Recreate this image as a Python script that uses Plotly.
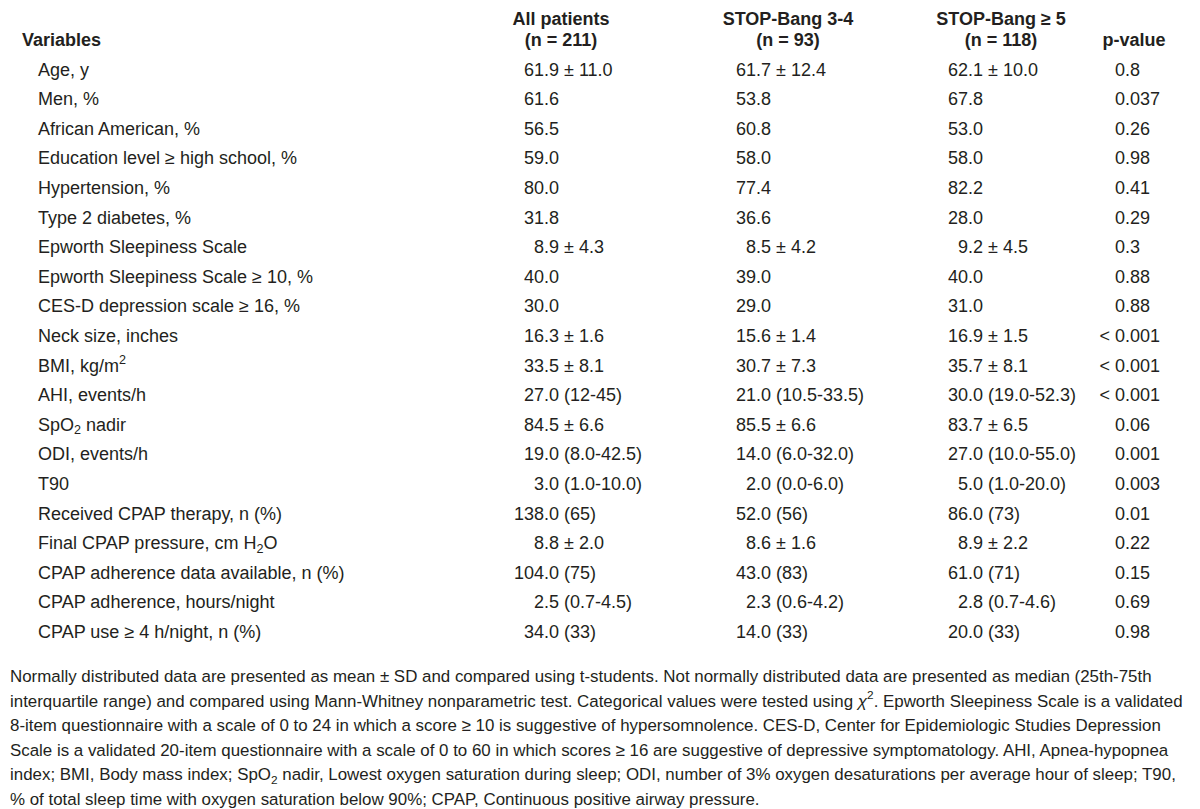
import plotly.graph_objects as go

# ---------------- data ----------------
variables = [
    "Age, y", "Men, %", "African American, %", "Education level ≥ high school, %",
    "Hypertension, %", "Type 2 diabetes, %", "Epworth Sleepiness Scale",
    "Epworth Sleepiness Scale ≥ 10, %", "CES-D depression scale ≥ 16, %",
    "Neck size, inches", "BMI, kg/m<sup>2</sup>", "AHI, events/h",
    "SpO<sub>2</sub> nadir", "ODI, events/h", "T90", "Received CPAP therapy, n (%)",
    "Final CPAP pressure, cm H<sub>2</sub>O", "CPAP adherence data available, n (%)",
    "CPAP adherence, hours/night", "CPAP use ≥ 4 h/night, n (%)",
]
all_patients = [
    "61.9 ± 11.0", "61.6", "56.5", "59.0", "80.0", "31.8", "8.9 ± 4.3", "40.0", "30.0",
    "16.3 ± 1.6", "33.5 ± 8.1", "27.0 (12-45)", "84.5 ± 6.6", "19.0 (8.0-42.5)",
    "3.0 (1.0-10.0)", "138.0 (65)", "8.8 ± 2.0", "104.0 (75)", "2.5 (0.7-4.5)", "34.0 (33)",
]
stop_bang_3_4 = [
    "61.7 ± 12.4", "53.8", "60.8", "58.0", "77.4", "36.6", "8.5 ± 4.2", "39.0", "29.0",
    "15.6 ± 1.4", "30.7 ± 7.3", "21.0 (10.5-33.5)", "85.5 ± 6.6", "14.0 (6.0-32.0)",
    "2.0 (0.0-6.0)", "52.0 (56)", "8.6 ± 1.6", "43.0 (83)", "2.3 (0.6-4.2)", "14.0 (33)",
]
stop_bang_5 = [
    "62.1 ± 10.0", "67.8", "53.0", "58.0", "82.2", "28.0", "9.2 ± 4.5", "40.0", "31.0",
    "16.9 ± 1.5", "35.7 ± 8.1", "30.0 (19.0-52.3)", "83.7 ± 6.5", "27.0 (10.0-55.0)",
    "5.0 (1.0-20.0)", "86.0 (73)", "8.9 ± 2.2", "61.0 (71)", "2.8 (0.7-4.6)", "20.0 (33)",
]
p_values = [
    "0.8", "0.037", "0.26", "0.98", "0.41", "0.29", "0.3", "0.88", "0.88",
    "< 0.001", "< 0.001", "< 0.001", "0.06", "0.001", "0.003", "0.01", "0.22",
    "0.15", "0.69", "0.98",
]
header_line1 = ["All patients", "STOP-Bang 3-4", "STOP-Bang ≥ 5"]
header_line2 = ["(n = 211)", "(n = 93)", "(n = 118)", "p-value"]
footnote = [
    "Normally distributed data are presented as mean ± SD and compared using t-students. Not normally distributed data are presented as median (25th-75th",
    "interquartile range) and compared using Mann-Whitney nonparametric test. Categorical values were tested using <i>χ</i><sup>2</sup>. Epworth Sleepiness Scale is a validated",
    "8-item questionnaire with a scale of 0 to 24 in which a score ≥ 10 is suggestive of hypersomnolence. CES-D, Center for Epidemiologic Studies Depression",
    "Scale is a validated 20-item questionnaire with a scale of 0 to 60 in which scores ≥ 16 are suggestive of depressive symptomatology. AHI, Apnea-hypopnea",
    "index; BMI, Body mass index; SpO<sub>2</sub> nadir, Lowest oxygen saturation during sleep; ODI, number of 3% oxygen desaturations per average hour of sleep; T90,",
    "% of total sleep time with oxygen saturation below 90%; CPAP, Continuous positive airway pressure.",
]

# ---------------- layout constants ----------------
W, H = 1200, 809
ROW0_PX, ROW_PX = 63, 29.6          # first data row centre and row pitch (pixels)
FONT = "Liberation Sans, Arial, Helvetica, sans-serif"
COLOR = "#231f20"
BODY = 18
LABEL_X, VAR_HDR_X = 30, 14
DEC_X = [536, 748, 960, 1117]        # decimal-alignment x for the 4 value columns
HDR_X = [553, 780, 993, 1126]        # header centres
HDR_Y = [-1.72, -1.0]                # header rows, in row units
FOOT_X = 2
FOOT_Y0, FOOT_STEP = 20.5, 0.828     # footnote lines, in row units
FOOT_SIZE = 16.9

y_top = -ROW0_PX / ROW_PX
y_bot = (H - ROW0_PX) / ROW_PX
rows = list(range(len(variables)))

fig = go.Figure()


def text_trace(xs, ys, texts, pos, size=BODY, bold=False):
    fig.add_trace(go.Scatter(
        x=xs, y=ys, text=texts, mode="text", textposition=pos,
        textfont=dict(family=FONT, size=size, color=COLOR, weight="bold" if bold else "normal"),
        hoverinfo="skip", showlegend=False, cliponaxis=False,
    ))


# header
text_trace([VAR_HDR_X], [HDR_Y[1]], ["Variables"], "middle right", bold=True)
text_trace(HDR_X[:3], [HDR_Y[0]] * 3, header_line1, "middle center", bold=True)
text_trace(HDR_X, [HDR_Y[1]] * 4, header_line2, "middle center", bold=True)

# row labels
text_trace([LABEL_X] * len(rows), rows, variables, "middle right")

# value columns, aligned on the first decimal point
for col, xd in zip([all_patients, stop_bang_3_4, stop_bang_5, p_values], DEC_X):
    left = [s[:s.index(".")] for s in col]
    right = [s[s.index("."):] for s in col]
    text_trace([xd] * len(rows), rows, left, "middle left")
    text_trace([xd] * len(rows), rows, right, "middle right")

# footnote
fy = [FOOT_Y0 + k * FOOT_STEP for k in range(len(footnote))]
text_trace([FOOT_X] * len(footnote), fy, footnote, "middle right", size=FOOT_SIZE)

fig.update_layout(
    width=W, height=H, margin=dict(l=0, r=0, t=0, b=0),
    paper_bgcolor="white", plot_bgcolor="white",
    xaxis=dict(range=[0, W], visible=False, fixedrange=True),
    yaxis=dict(range=[y_bot, y_top], visible=False, fixedrange=True),
)

fig.write_html("out.html")
